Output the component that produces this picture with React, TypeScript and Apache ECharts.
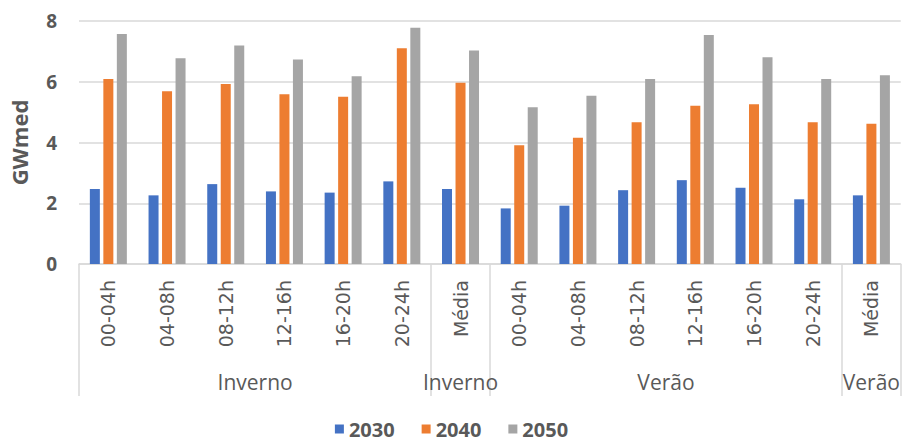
import React, { useEffect, useRef } from "react";
import * as echarts from "echarts";

// Time-of-day blocks per season, followed by the season average
const categories = [
  "00-04h", "04-08h", "08-12h", "12-16h", "16-20h", "20-24h", "Média",
  "00-04h", "04-08h", "08-12h", "12-16h", "16-20h", "20-24h", "Média",
];

// Season groups: label and number of categories they span
const groupLabels = ["Inverno", "Inverno", "Verão", "Verão"];
const groupSizes = [6, 1, 6, 1];

const seriesNames = ["2030", "2040", "2050"];
const values2030 = [2.47, 2.26, 2.63, 2.39, 2.35, 2.72, 2.47, 1.83, 1.92, 2.43, 2.76, 2.51, 2.13, 2.26];
const values2040 = [6.09, 5.69, 5.93, 5.59, 5.51, 7.1, 5.97, 3.91, 4.16, 4.67, 5.21, 5.26, 4.67, 4.62];
const values2050 = [7.57, 6.77, 7.19, 6.73, 6.18, 7.78, 7.03, 5.16, 5.54, 6.09, 7.54, 6.81, 6.09, 6.21];

const yTicks = [0, 2, 4, 6, 8];
const colors = ["#4472C4", "#ED7D31", "#A5A5A5"];

const GRID_COLOR = "#D9D9D9";
const TEXT_COLOR = "#595959";

export default function App() {
  const ref = useRef<HTMLDivElement>(null);

  useEffect(() => {
    if (!ref.current) return;
    const chart = echarts.init(ref.current, undefined, { renderer: "svg" });

    // Boundaries and centres of the season groups, in category units
    const bounds: number[] = [0];
    groupSizes.forEach((s) => bounds.push(bounds[bounds.length - 1] + s));
    const centers = groupSizes.map((s, i) => bounds[i] + s / 2);

    const allValues = [values2030, values2040, values2050];

    chart.setOption({
      animation: false,
      grid: { left: 79, right: 1, top: 21, bottom: 177, containLabel: false },
      legend: {
        top: 419,
        left: "center",
        padding: [0, 5],
        icon: "rect",
        itemWidth: 9,
        itemHeight: 9,
        itemGap: 27,
        textStyle: {
          fontFamily: "Open Sans",
          fontSize: 20,
          lineHeight: 20,
          fontWeight: "bold",
          color: TEXT_COLOR,
        },
        data: seriesNames,
      },
      xAxis: [
        {
          type: "category",
          data: categories,
          boundaryGap: true,
          axisLine: { show: true, lineStyle: { color: GRID_COLOR, width: 1.5 } },
          axisTick: { show: false },
          axisLabel: {
            rotate: 90,
            interval: 0,
            margin: 16,
            fontFamily: "DejaVu Sans",
            fontSize: 19,
            color: TEXT_COLOR,
          },
        },
        {
          type: "value",
          position: "bottom",
          min: 0,
          max: categories.length,
          axisLine: { show: false },
          splitLine: { show: false },
          axisTick: {
            show: true,
            customValues: bounds,
            length: 132,
            lineStyle: { color: GRID_COLOR, width: 1.5 },
          },
          axisLabel: {
            customValues: centers,
            margin: 107,
            fontFamily: "Open Sans",
            fontSize: 21,
            color: TEXT_COLOR,
            formatter: (v: number) => {
              const i = centers.findIndex((c) => Math.abs(c - v) < 1e-6);
              return i >= 0 ? groupLabels[i] : "";
            },
          },
        },
      ],
      yAxis: {
        type: "value",
        min: 0,
        max: yTicks[yTicks.length - 1],
        interval: 2,
        name: "GWmed",
        nameLocation: "middle",
        nameGap: 49,
        nameTextStyle: {
          fontFamily: "Open Sans",
          fontSize: 22,
          fontWeight: "bold",
          color: TEXT_COLOR,
        },
        axisLine: { show: false },
        axisTick: { show: false },
        splitLine: { lineStyle: { color: GRID_COLOR, width: 1.5 } },
        axisLabel: {
          margin: 22,
          fontFamily: "Open Sans",
          fontSize: 19,
          fontWeight: "bold",
          color: TEXT_COLOR,
        },
      },
      series: seriesNames.map((name, i) => ({
        name,
        type: "bar",
        xAxisIndex: 0,
        data: allValues[i],
        barWidth: 10,
        barGap: "35%",
        itemStyle: { color: colors[i] },
      })),
    });

    return () => chart.dispose();
  }, []);

  return (
    <div
      ref={ref}
      style={{ position: "fixed", left: 0, top: 0, width: 903, height: 441, background: "#fff" }}
    />
  );
}
